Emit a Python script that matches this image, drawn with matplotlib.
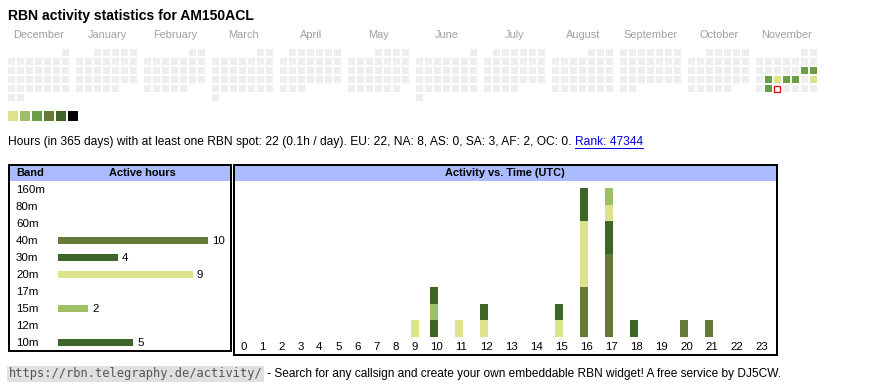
import datetime as dt
import numpy as np
import matplotlib
matplotlib.use('Agg')
import matplotlib.pyplot as plt
import matplotlib.transforms as mtransforms
from matplotlib.patches import Rectangle
from matplotlib.lines import Line2D

plt.rcParams['font.family'] = ['Liberation Sans', 'DejaVu Sans']

W, H = 870, 390


def fs(px):
    # pixel size -> points (dpi 100)
    return px * 0.72


# ---- data ----
callsign = 'AM150ACL'
months = ['December', 'January', 'February', 'March', 'April', 'May', 'June',
          'July', 'August', 'September', 'October', 'November']
first_day = dt.date(2024, 12, 1)
last_day = dt.date(2025, 11, 30)
today = dt.date(2025, 11, 26)
active_days = ['2025-11-15', '2025-11-16', '2025-11-18', '2025-11-19',
               '2025-11-20', '2025-11-21', '2025-11-23', '2025-11-25']
active_levels = [3, 3, 3, 1, 3, 3, 1, 3]
scale_colors = ['#dce38a', '#9dc066', '#6a9e45', '#67793a', '#3d6628', '#000000']

bands = ['160m', '80m', '60m', '40m', '30m', '20m', '17m', '15m', '12m', '10m']
band_hours = [0, 0, 0, 10, 4, 9, 0, 2, 0, 5]
band_colors = ['#000000', '#000000', '#000000', '#67793a', '#3d6628',
               '#dce38a', '#000000', '#9dc066', '#000000', '#3d6628']

hours = list(range(24))
activity = {
    '40m': [0, 0, 0, 0, 0, 0, 0, 0, 0, 0, 0, 0, 0, 0, 0, 0, 3, 5, 0, 0, 1, 1, 0, 0],
    '30m': [0, 0, 0, 0, 0, 0, 0, 0, 0, 0, 1, 0, 0, 0, 0, 0, 0, 2, 1, 0, 0, 0, 0, 0],
    '20m': [0, 0, 0, 0, 0, 0, 0, 0, 0, 1, 0, 1, 1, 0, 0, 1, 4, 1, 0, 0, 0, 0, 0, 0],
    '15m': [0, 0, 0, 0, 0, 0, 0, 0, 0, 0, 1, 0, 0, 0, 0, 0, 0, 1, 0, 0, 0, 0, 0, 0],
    '10m': [0, 0, 0, 0, 0, 0, 0, 0, 0, 0, 1, 0, 1, 0, 0, 1, 2, 0, 0, 0, 0, 0, 0, 0],
}

total_hours = 22
days_span = 365
per_day = '0.1h'
continents = ['EU', 'NA', 'AS', 'SA', 'AF', 'OC']
continent_hours = [22, 8, 0, 3, 2, 0]
rank = 47344

fig = plt.figure(figsize=(W / 100, H / 100), dpi=100)
ax0 = fig.add_axes([0, 0, 1, 1])
ax0.set_xlim(0, W)
ax0.set_ylim(H, 0)
ax0.axis('off')


def px_axes(x0, y0, x1, y1):
    a = fig.add_axes([x0 / W, 1 - y1 / H, (x1 - x0) / W, (y1 - y0) / H])
    a.patch.set_alpha(0)
    a.axis('off')
    return a


# title
ax0.text(8, 16, f'RBN activity statistics for {callsign}', fontsize=fs(14),
         fontweight='bold', va='center', ha='left')

# ---- calendar ----
cell, pitch, block = 7, 9, 68
cal_x0, cal_y0 = 8, 49
for i, m in enumerate(months):
    ax0.text(cal_x0 + i * block + 31, 35, m, fontsize=fs(11), color='#a0a0a0',
             ha='center', va='center')

active = {dt.date.fromisoformat(d): lv for d, lv in zip(active_days, active_levels)}
d = first_day
while d <= last_day:
    mi = (d.year - first_day.year) * 12 + d.month - first_day.month
    start_wd = d.replace(day=1).weekday()
    row = (d.day - 1 + start_wd) // 7
    x = cal_x0 + mi * block + d.weekday() * pitch
    y = cal_y0 + row * pitch
    if d == today:
        ax0.add_patch(Rectangle((x + 0.5, y + 0.5), cell - 1, cell - 1, fc='white',
                                ec='#e00000', lw=0.9))
    else:
        c = scale_colors[active[d] - 1] if d in active else '#eeeeee'
        ax0.add_patch(Rectangle((x, y), cell, cell, fc=c, ec='none'))
    d += dt.timedelta(days=1)

for i, c in enumerate(scale_colors):
    ax0.add_patch(Rectangle((8 + i * 12, 111), 10, 10, fc=c, ec='none'))

# ---- summary line ----
cont_txt = ', '.join(f'{c}: {v}' for c, v in zip(continents, continent_hours))
info = (f'Hours (in {days_span} days) with at least one RBN spot: {total_hours} '
        f'({per_day} / day). {cont_txt}. ')
t_info = ax0.text(8, 142, info, fontsize=fs(12), va='center', ha='left')

# ---- boxes ----
ax0.add_patch(Rectangle((10, 166), 220, 15, fc='#aabbff', ec='none'))
ax0.add_patch(Rectangle((9, 165), 222, 186, fc='none', ec='black', lw=1.44))
ax0.add_patch(Rectangle((235, 165.5), 541, 15.5, fc='#aabbff', ec='none'))
ax0.add_patch(Rectangle((234, 164.5), 543, 190, fc='none', ec='black', lw=1.44))

hdr = dict(fontsize=fs(11), fontweight='bold', va='center')
ax0.text(16, 173.5, 'Band', ha='left', **hdr)
ax0.text(142, 173.5, 'Active hours', ha='center', **hdr)
ax0.text(505, 173.5, 'Activity vs. Time (UTC)', ha='center', **hdr)

# ---- band bars ----
px_per_hour = 15
axb = px_axes(58, 180.5, 229, 350.5)
axb.set_xlim(0, 171 / px_per_hour)
axb.set_ylim(len(bands) - 0.5, -0.5)
axb.barh(range(len(bands)), band_hours, height=7 / 17, color=band_colors)
lab_tr = mtransforms.blended_transform_factory(ax0.transData, axb.transData)
for i, (b, v) in enumerate(zip(bands, band_hours)):
    axb.text(16, i + 0.03, b, transform=lab_tr, fontsize=fs(11.5), ha='left',
             va='center', clip_on=False)
    if v:
        axb.text(v + 4 / px_per_hour, i + 0.03, str(v), fontsize=fs(11.5),
                 ha='left', va='center', clip_on=False)

# ---- activity vs time ----
unit_px = 16.5
axa = px_axes(234, 181, 777, 336.5)
axa.set_xlim(234, 777)
axa.set_ylim(0, 155.5 / unit_px)
widths = np.array([19 if h < 10 else 25 for h in hours])
lefts = 234.5 + np.concatenate([[0], np.cumsum(widths)[:-1]]) + 5.7
bottom = np.zeros(len(hours))
for b in bands:
    if b not in activity:
        continue
    v = np.array(activity[b])
    axa.bar(lefts, v, width=8, bottom=bottom, align='edge',
            color=band_colors[bands.index(b)])
    bottom += v
hr_tr = mtransforms.blended_transform_factory(axa.transData, ax0.transData)
for x, h in zip(lefts, hours):
    axa.text(x, 346.5, str(h), transform=hr_tr, fontsize=fs(11.5), ha='left',
             va='center', clip_on=False)

# ---- footer ----
t_url = ax0.text(8.5, 374, 'https://rbn.telegraphy.de/activity/', fontsize=fs(12),
                 family='DejaVu Sans Mono', color='#555555', ha='left', va='center',
                 bbox=dict(boxstyle='square,pad=0.12', fc='#e0e0e0', ec='none'))

fig.canvas.draw()
r = fig.canvas.get_renderer()
bb = t_info.get_window_extent(r)
t_rank = ax0.text(bb.x1, 142, f'Rank: {rank}', fontsize=fs(12), color='#0000ee',
                  va='center', ha='left')
bb_url = t_url.get_window_extent(r)
ax0.text(bb_url.x1 + 2, 374, ' - Search for any callsign and create your own embeddable '
         'RBN widget! A free service by DJ5CW.', fontsize=fs(11.9), ha='left',
         va='center')
fig.canvas.draw()
bbr = t_rank.get_window_extent(r)
ax0.add_line(Line2D([bbr.x0, bbr.x1], [147.5, 147.5], color='#0000ee', lw=0.72))

fig.savefig('out.png', dpi=100)
